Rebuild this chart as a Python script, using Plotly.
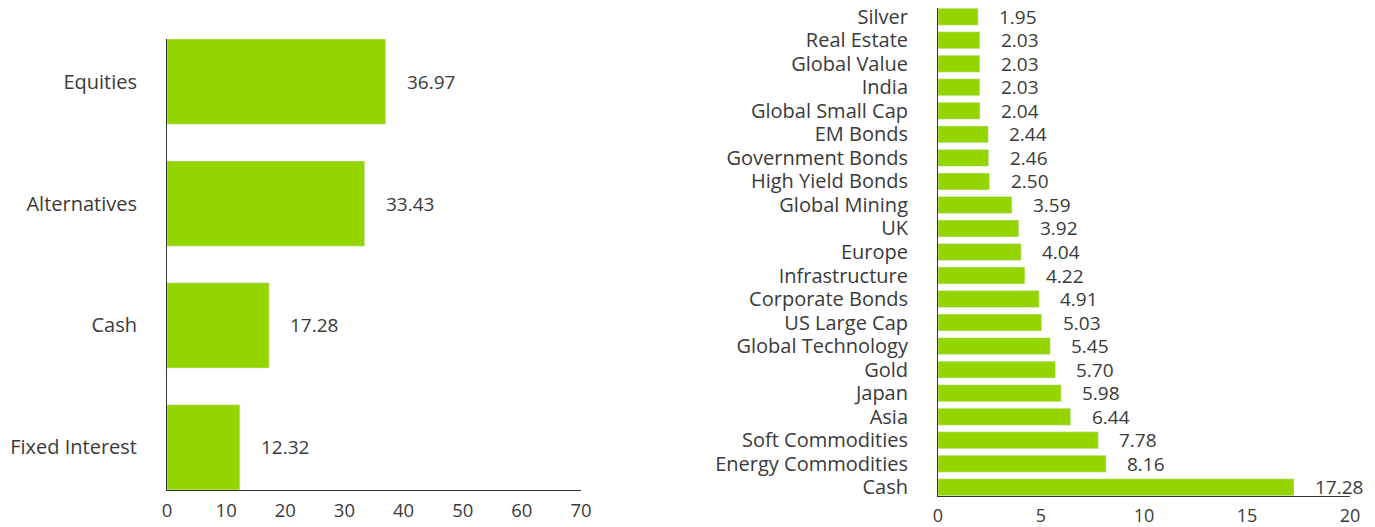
import plotly.graph_objects as go

left_cats = ["Equities", "Alternatives", "Cash", "Fixed Interest"]
left_vals = [36.97, 33.43, 17.28, 12.32]
left_ticks = [0, 10, 20, 30, 40, 50, 60, 70]

right_cats = ["Silver", "Real Estate", "Global Value", "India", "Global Small Cap",
              "EM Bonds", "Government Bonds", "High Yield Bonds", "Global Mining", "UK",
              "Europe", "Infrastructure", "Corporate Bonds", "US Large Cap",
              "Global Technology", "Gold", "Japan", "Asia", "Soft Commodities",
              "Energy Commodities", "Cash"]
right_vals = [1.95, 2.03, 2.03, 2.03, 2.04, 2.44, 2.46, 2.50, 3.59, 3.92, 4.04, 4.22,
              4.91, 5.03, 5.45, 5.70, 5.98, 6.44, 7.78, 8.16, 17.28]
right_ticks = [0, 5, 10, 15, 20]

GREEN = "#94d500"
TXT = "#3a3a3a"
FONT = "Open Sans"

W, H = 1375, 527

fig = go.Figure()
fig.add_trace(go.Bar(x=left_vals, y=left_cats, orientation="h", marker_color=GREEN,
                     width=0.7, xaxis="x", yaxis="y", hoverinfo="skip"))
fig.add_trace(go.Bar(x=right_vals, y=right_cats, orientation="h", marker_color=GREEN,
                     width=0.72, xaxis="x2", yaxis="y2", hoverinfo="skip"))

anns = []
for c, v in zip(left_cats, left_vals):
    anns.append(dict(x=v, y=c, xref="x", yref="y", text=f"{v:.2f}", showarrow=False,
                     xanchor="left", xshift=19, font=dict(size=19, color=TXT, family=FONT)))
for c, v in zip(right_cats, right_vals):
    anns.append(dict(x=v, y=c, xref="x2", yref="y2", text=f"{v:.2f}", showarrow=False,
                     xanchor="left", xshift=19, font=dict(size=19, color=TXT, family=FONT)))

axis_common = dict(showgrid=False, zeroline=False, showline=True, linecolor="#333333",
                   linewidth=1, ticks="", automargin=False)

fig.update_layout(
    width=W, height=H,
    margin=dict(l=0, r=0, t=0, b=0, pad=0, autoexpand=False),
    paper_bgcolor="white", plot_bgcolor="white",
    showlegend=False,
    font=dict(family=FONT, color=TXT),
    annotations=anns,
    xaxis=dict(domain=[167 / W, 581 / W], range=[0, 70], tickvals=left_ticks,
               anchor="y", ticklabelstandoff=4, tickfont=dict(size=18.5), **axis_common),
    yaxis=dict(domain=[(H - 490) / H, (H - 39) / H], range=[-0.35, 3.35],
               categoryorder="array", categoryarray=left_cats[::-1], anchor="x",
               tickmode="array", tickvals=left_cats,
               ticklabelstandoff=25, tickfont=dict(size=20), **axis_common),
    xaxis2=dict(domain=[938 / W, 1350 / W], range=[0, 20], tickvals=right_ticks,
                anchor="y2", ticklabelstandoff=3, tickfont=dict(size=18), **axis_common),
    yaxis2=dict(domain=[(H - 496) / H, (H - 8) / H], range=[-0.37, 20.37],
                categoryorder="array", categoryarray=right_cats[::-1], anchor="x2",
                tickmode="array", tickvals=right_cats,
                ticklabelstandoff=25, tickfont=dict(size=20), **axis_common),
)

post = "document.body.style.margin='0';document.body.style.overflow='hidden';"
fig.write_html("out.html", post_script=post, config={"displayModeBar": False})
